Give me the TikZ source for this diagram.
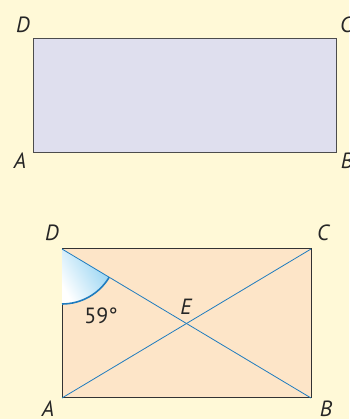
\documentclass[tikz,border=0pt]{standalone}
\usepackage{fontspec}
\setmainfont{PT Sans}
\usetikzlibrary{calc}
\definecolor{paper}{HTML}{FFF9D7}
\definecolor{lilac}{HTML}{DFDFEE}
\definecolor{peach}{HTML}{FDE5C8}
\definecolor{diag}{HTML}{1F7CBF}
\definecolor{wedge}{HTML}{92D2F2}

\begin{document}
\begin{tikzpicture}[
    x=1pt, y=1pt,
    font=\fontsize{22}{26}\selectfont,
    lbl/.style={inner sep=0pt, font=\fontsize{22}{26}\selectfont\itshape, text=black!85},
    plain/.style={draw=black!70, line width=0.8pt, fill=lilac},
    warm/.style={draw=black!80, line width=1pt, fill=peach},
    cross/.style={draw=diag, line width=0.8pt},
    angarc/.style={draw=diag, line width=1.6pt},
    angfill/.style={left color=wedge, right color=white, shading angle=-60},
  ]
  \fill[paper] (0,0) rectangle (349,419);
  \useasboundingbox (0,0) rectangle (349,419);
  % first rectangle
  \coordinate (A1) at (33.5,267);
  \coordinate (B1) at (336,267);
  \coordinate (C1) at (336,380.5);
  \coordinate (D1) at (33.5,380.5);
  \draw[plain] (A1) -- (B1) -- (C1) -- (D1) -- cycle;
  \node[lbl] (lA1) at (20,258) {A};
  \node[lbl] (lB1) at (347,258) {B};
  \node[lbl] (lC1) at (346,394) {C};
  \node[lbl] (lD1) at (23,394) {D};
  % second rectangle with diagonals
  \coordinate (A2) at (62,21);
  \coordinate (B2) at (311,21);
  \coordinate (C2) at (311,170);
  \coordinate (D2) at (62,170);
  \draw[warm] (A2) -- (B2) -- (C2) -- (D2) -- cycle;
  \shade[angfill] (D2) -- ($(D2)+(-90:55pt)$) arc[start angle=-90, end angle=-30.9, radius=55pt] -- cycle;
  \draw[cross] (A2) -- (C2);
  \draw[cross] (D2) -- (B2);
  \draw[angarc] ($(D2)+(-90:55pt)$) arc[start angle=-90, end angle=-30.9, radius=55pt];
  \coordinate (E) at ($(A2)!0.5!(C2)$);
  \node[lbl] (lA2) at (48,10) {A};
  \node[lbl] (lB2) at (326,10) {B};
  \node[lbl] (lC2) at (323,186) {C};
  \node[lbl] (lD2) at (52,186) {D};
  \node[lbl] (lE) at (186,112) {E};
  \node[inner sep=0pt, text=black!85] (ang) at (101,103) {59°};
\end{tikzpicture}
\end{document}
